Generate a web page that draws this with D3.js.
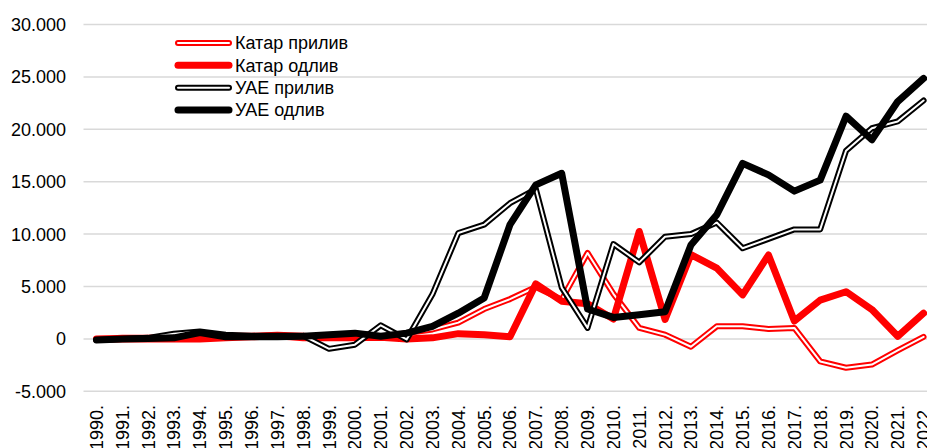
<!DOCTYPE html>
<html>
<head>
<meta charset="utf-8">
<script src="https://cdn.jsdelivr.net/npm/d3@7"></script>
<style>
    body { margin: 0; background: #fff; }
    svg { display: block; font-family: "Liberation Sans", Arial, sans-serif; }
</style>
</head>
<body>
<svg id="Chart"></svg>
<script>
'use strict';

let years = d3.range(1990, 2023);
let yTicks = [-5000, 0, 5000, 10000, 15000, 20000, 25000, 30000];

let qatarInflow = [0, 100, 100, 200, 0, 300, 300, 400, 300, 100, 100, 200, 550, 900, 1550, 2850, 3800, 4950, 3750, 8200,
    4300, 1050, 400, -750, 1200, 1200, 950, 1050, -2150, -2750, -2450, -1100, 200];
let qatarOutflow = [0, 0, 0, 0, 0, 100, 200, 300, 100, 100, 100, 150, 0, 100, 500, 400, 200, 5250, 3600, 3350,
    1900, 10250, 1850, 8050, 6750, 4200, 8000, 1700, 3700, 4500, 2800, 250, 2450];
let uaeInflow = [-100, 0, 100, 500, 700, 400, 300, 300, 300, -950, -550, 1300, -50, 4250, 10100, 10900, 12950, 14300, 4900, 1050,
    9050, 7300, 9750, 10000, 11100, 8650, 9550, 10450, 10450, 17950, 20100, 20750, 22750];
let uaeOutflow = [-100, 0, 50, 100, 600, 200, 200, 200, 250, 400, 550, 250, 550, 1200, 2450, 3900, 10900, 14700, 15800, 2850,
    2050, 2300, 2600, 8950, 11850, 16750, 15650, 14100, 15150, 21250, 19000, 22650, 24850];

let series = [
    { name: "Катар прилив", values: qatarInflow, color: "#ff0000", hollow: true },
    { name: "Катар одлив", values: qatarOutflow, color: "#ff0000", hollow: false },
    { name: "УАЕ прилив", values: uaeInflow, color: "#000000", hollow: true },
    { name: "УАЕ одлив", values: uaeOutflow, color: "#000000", hollow: false }
];

function getChartConfig() {
    let width = 927, height = 448;
    let plot = { left: 83.5, right: 936.5, top: 24.5, bottom: 391.3 };
    let svg = d3.select("#Chart")
        .attr("width", width)
        .attr("height", height);
    return { width, height, plot, svg };
}

function getScales(config) {
    let { plot } = config;
    let xScale = d3.scaleBand()
        .domain(years)
        .range([plot.left, plot.right]);
    let yScale = d3.scaleLinear()
        .domain([-5000, 30000])
        .range([plot.bottom, plot.top]);
    return { xScale, yScale };
}

function drawAxis(config, scales) {
    let { svg, width, plot } = config;
    let { xScale, yScale } = scales;
    let locale = d3.formatLocale({ decimal: ",", thousands: ".", grouping: [3], currency: ["", ""], minus: "-" });
    let fmt = locale.format(",d");

    // gridlines
    svg.append("g").selectAll("line")
        .data(yTicks)
        .enter()
        .append("line")
        .attr("x1", plot.left)
        .attr("x2", width)
        .attr("y1", d => yScale(d))
        .attr("y2", d => yScale(d))
        .style("stroke", "#d9d9d9")
        .style("stroke-width", 1.5);

    svg.append("g").selectAll("text")
        .data(yTicks)
        .enter()
        .append("text")
        .attr("x", 66)
        .attr("y", d => yScale(d))
        .attr("dy", "0.36em")
        .style("text-anchor", "end")
        .style("font-size", "18px")
        .style("fill", "#000")
        .text(d => fmt(d));

    let half = xScale.bandwidth() / 2;
    svg.append("g").selectAll("text")
        .data(years)
        .enter()
        .append("text")
        .attr("transform", d => "translate(" + (xScale(d) + half) + ",405) rotate(-90)")
        .attr("dy", "0.36em")
        .style("text-anchor", "end")
        .style("font-size", "18px")
        .style("fill", "#000")
        .text(d => d + ".");
}

function drawLines(config, scales) {
    let { svg } = config;
    let { xScale, yScale } = scales;
    let half = xScale.bandwidth() / 2;

    let line = d3.line()
        .x((d, i) => xScale(years[i]) + half)
        .y(d => yScale(d));

    series.forEach(s => {
        let g = svg.append("g");
        g.append("path")
            .attr("d", line(s.values))
            .style("fill", "none")
            .style("stroke", s.color)
            .style("stroke-width", s.hollow ? 6 : 7)
            .style("stroke-linejoin", "round")
            .style("stroke-linecap", "round");
        if (s.hollow) {
            g.append("path")
                .attr("d", line(s.values))
                .style("fill", "none")
                .style("stroke", "#fff")
                .style("stroke-width", 2)
                .style("stroke-linejoin", "round")
                .style("stroke-linecap", "round");
        }
    });
}

function drawLegend(config) {
    let { svg } = config;
    let rowY = d3.scalePoint()
        .domain(series.map(d => d.name))
        .range([43, 110]);

    let item = svg.append("g").selectAll("g")
        .data(series)
        .enter()
        .append("g")
        .attr("transform", d => "translate(0," + rowY(d.name) + ")");

    item.append("line")
        .attr("x1", 178).attr("x2", 229)
        .style("stroke", d => d.color)
        .style("stroke-width", d => d.hollow ? 6 : 7)
        .style("stroke-linecap", "round");

    item.filter(d => d.hollow)
        .append("line")
        .attr("x1", 178).attr("x2", 229)
        .style("stroke", "#fff")
        .style("stroke-width", 2)
        .style("stroke-linecap", "round");

    item.append("text")
        .attr("x", 235)
        .attr("dy", "0.36em")
        .style("font-size", "18px")
        .style("fill", "#000")
        .text(d => d.name);
}

function drawChart() {
    let config = getChartConfig();
    let scales = getScales(config);
    drawAxis(config, scales);
    drawLines(config, scales);
    drawLegend(config);
}

drawChart();
</script>
</body>
</html>
